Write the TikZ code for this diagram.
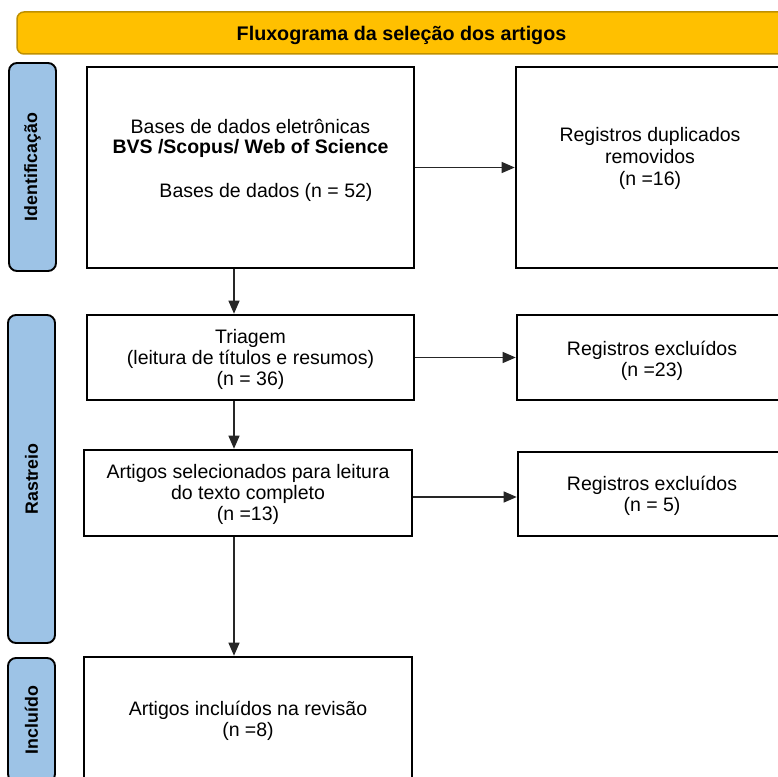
\documentclass[tikz,border=0pt]{standalone}
\usepackage{fontspec}
\setmainfont{Liberation Sans}
\usetikzlibrary{arrows.meta}
\definecolor{titlegold}{HTML}{FFC000}
\definecolor{titleline}{HTML}{BF9000}
\definecolor{stageblue}{HTML}{9DC3E6}
\newcommand\diagfont{\fontsize{19.5}{20.8}\selectfont}
\newcommand\stagefont{\fontsize{17.8}{18}\selectfont\bfseries}
\begin{document}
\begin{tikzpicture}[x=1pt,y=-1pt,
  flowbox/.style={draw=black, line width=2.6pt, fill=white, inner sep=0pt},
  stagebox/.style={draw=black, line width=1.9pt, fill=stageblue, rounded corners=8pt, inner sep=0pt, rotate=90, font=\stagefont},
  txt/.style={inner sep=0pt, align=center, font=\diagfont, anchor=base},
  arr/.style={-{Triangle[length=13pt,width=11pt]}, line width=1.2pt, draw=black!85, fill=black!85}]
\useasboundingbox (0,0) rectangle (778,776);
\clip (0,0) rectangle (778,776);
\fill[white] (0,0) rectangle (778,776);

% title bar
\node[draw=titleline, line width=1.5pt, fill=titlegold, rounded corners=7pt,
      minimum width=775, minimum height=42, inner sep=0pt] (title) at (404.5,33) {};
\node[inner sep=0pt, anchor=base, font=\fontsize{19.7}{21}\selectfont\bfseries] (titletxt) at (401.5,41) {Fluxograma da seleção dos artigos};

% stage labels
\node[stagebox, minimum width=208, minimum height=47] (s1) at (32.5,167) {Identificação};
\node[stagebox, minimum width=328, minimum height=47] (s2) at (31.5,479) {Rastreio};
\node[stagebox, minimum width=124, minimum height=47] (s3) at (31.5,720) {Incluído};

% boxes
\node[flowbox, minimum width=327, minimum height=201] (b1) at (250.5,167.5) {};
\node[flowbox, minimum width=268, minimum height=201] (dup) at (650,167.5) {};
\node[flowbox, minimum width=327, minimum height=85] (tri) at (250.5,357.5) {};
\node[flowbox, minimum width=270, minimum height=85] (ex1) at (652,357.5) {};
\node[flowbox, minimum width=328, minimum height=86] (sel) at (248,493) {};
\node[flowbox, minimum width=268, minimum height=84] (ex2) at (652,494) {};
\node[flowbox, minimum width=328, minimum height=124] (inc) at (248,719) {};

% texts (base anchor = baseline of the last line)
\node[txt] (b1a) at (250.5,133) {Bases de dados eletrônicas};
\node[txt, font=\diagfont\bfseries] (b1b) at (250.5,153) {BVS /Scopus/ Web of Science};
\node[txt] (b1c) at (266,197) {Bases de dados (n = 52)};
\node[txt, font=\fontsize{19.5}{21.7}\selectfont] (duptxt) at (650,185) {Registros duplicados\\removidos\\(n =16)};
\node[txt] (tritxt) at (250.5,385) {Triagem\\(leitura de títulos e resumos)\\(n = 36)};
\node[txt] (ex1txt) at (652,376.7) {Registros excluídos\\(n =23)};
\node[txt] (seltxt) at (248,520) {Artigos selecionados para leitura\\do texto completo\\(n =13)};
\node[txt] (ex2txt) at (652,511.7) {Registros excluídos\\(n = 5)};
\node[txt] (inctxt) at (248,736) {Artigos incluídos na revisão\\(n =8)};

% connectors
\coordinate (ax) at (234,0);
\draw[arr] (b1.east) -- (dup.west);
\draw[arr] (tri.east) -- (ex1.west);
\draw[arr] ([yshift=-4pt]sel.east) -- ([yshift=-4pt]sel.east -| ex2.west);
\draw[arr] (b1.south -| ax) -- (tri.north -| ax);
\draw[arr] (tri.south -| ax) -- (sel.north -| ax);
\draw[arr] (sel.south -| ax) -- (inc.north -| ax);
\end{tikzpicture}
\end{document}
